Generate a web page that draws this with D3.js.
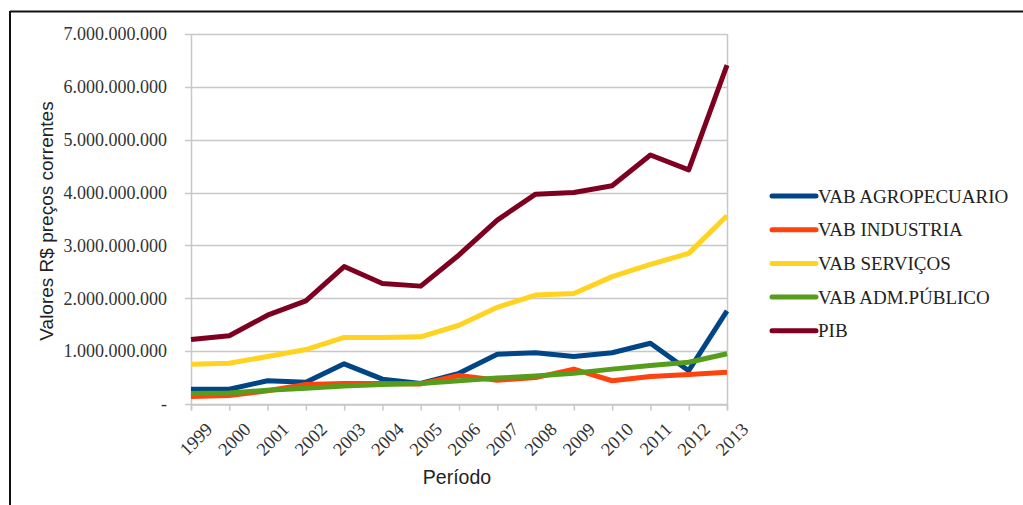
<!DOCTYPE html>
<html>
<head>
<meta charset="utf-8">
<script src="https://cdn.jsdelivr.net/npm/d3@7"></script>
<style>
  body { margin: 0; background: #fff; }
  svg { display: block; }
</style>
</head>
<body>
<div id="chart"></div>
<script>
const years = [1999, 2000, 2001, 2002, 2003, 2004, 2005, 2006, 2007, 2008, 2009, 2010, 2011, 2012, 2013];

// values in billions of R$ (scaled below)
const agropecuario = [0.28, 0.28, 0.44, 0.41, 0.76, 0.47, 0.39, 0.58, 0.94, 0.97, 0.90, 0.97, 1.15, 0.63, 1.76];
const industria = [0.14, 0.16, 0.25, 0.37, 0.39, 0.39, 0.38, 0.54, 0.45, 0.50, 0.66, 0.44, 0.52, 0.56, 0.60];
const servicos = [0.75, 0.77, 0.90, 1.03, 1.26, 1.26, 1.27, 1.49, 1.83, 2.06, 2.09, 2.41, 2.64, 2.85, 3.56];
const admPublico = [0.20, 0.21, 0.26, 0.30, 0.34, 0.37, 0.39, 0.44, 0.49, 0.53, 0.58, 0.66, 0.73, 0.79, 0.95];
const pib = [1.22, 1.29, 1.68, 1.95, 2.60, 2.28, 2.23, 2.82, 3.48, 3.97, 4.00, 4.13, 4.71, 4.43, 6.41];

const seriesNames = ['VAB AGROPECUARIO', 'VAB INDUSTRIA', 'VAB SERVIÇOS', 'VAB ADM.PÚBLICO', 'PIB'];
const seriesColors = ['#004586', '#ff420e', '#ffd320', '#579d1c', '#7e0021'];
const yTicks = [0, 1e9, 2e9, 3e9, 4e9, 5e9, 6e9, 7e9];

const series = [agropecuario, industria, servicos, admPublico, pib].map((vals, i) => ({
  name: seriesNames[i],
  color: seriesColors[i],
  values: vals.map((v, j) => ({ year: years[j], value: v * 1e9 }))
}));

const width = 1023, height = 505;
const margin = { left: 191, right: 296, top: 34, bottom: 100 };
const serif = '"Liberation Serif", "Times New Roman", serif';
const sans = '"Liberation Sans", Arial, sans-serif';

const svg = d3.select('#chart').append('svg')
  .attr('width', width)
  .attr('height', height);

// outer frame (only top and left edges show)
svg.append('line')
  .attr('x1', 10).attr('y1', 11.5).attr('x2', width).attr('y2', 11.5)
  .attr('stroke', '#111').attr('stroke-width', 2);
svg.append('line')
  .attr('x1', 10).attr('y1', 11).attr('x2', 10).attr('y2', height)
  .attr('stroke', '#111').attr('stroke-width', 2);

const x = d3.scalePoint()
  .domain(years)
  .range([margin.left, width - margin.right]);

const y = d3.scaleLinear()
  .domain([0, 7e9])
  .range([height - margin.bottom - 1, margin.top]);

const ptBR = d3.formatLocale({ decimal: ',', thousands: '.', grouping: [3], currency: ['R$', ''] });
const fmt = d => d === 0 ? '-' : ptBR.format(',')(d);

// grid
svg.append('g')
  .selectAll('line')
  .data(yTicks)
  .join('line')
  .attr('x1', margin.left - 6)
  .attr('x2', width - margin.right)
  .attr('y1', d => Math.round(y(d)) + 0.5)
  .attr('y2', d => Math.round(y(d)) + 0.5)
  .attr('stroke', '#c8c8c8')
  .attr('stroke-width', 1.5);

// y axis
const yAxis = svg.append('g')
  .attr('transform', `translate(${margin.left},0)`)
  .call(d3.axisLeft(y).tickValues(yTicks).tickFormat(fmt).tickSize(0).tickPadding(24));
yAxis.select('.domain').attr('stroke', '#c8c8c8').attr('stroke-width', 1.5);
yAxis.selectAll('text')
  .attr('font-family', serif)
  .attr('font-size', 18)
  .attr('fill', '#333');

// right edge of plot
svg.append('line')
  .attr('x1', width - margin.right + 0.5).attr('x2', width - margin.right + 0.5)
  .attr('y1', margin.top).attr('y2', y(0))
  .attr('stroke', '#c8c8c8').attr('stroke-width', 1.5);

// x axis
const xAxis = svg.append('g')
  .attr('transform', `translate(0,${Math.round(y(0)) + 0.5})`)
  .call(d3.axisBottom(x).tickSize(6).tickPadding(4));
xAxis.select('.domain').attr('stroke', '#c8c8c8').attr('stroke-width', 1.5);
xAxis.selectAll('.tick line').attr('stroke', '#c8c8c8').attr('stroke-width', 1.5);
xAxis.selectAll('text')
  .attr('font-family', serif)
  .attr('font-size', 18.5)
  .attr('fill', '#333')
  .attr('text-anchor', 'end')
  .attr('dy', '0.3em')
  .attr('transform', 'translate(11,15) rotate(-45)');

// lines
const line = d3.line()
  .x(d => x(d.year))
  .y(d => y(d.value));

svg.append('g')
  .selectAll('path')
  .data(series)
  .join('path')
  .attr('d', d => line(d.values))
  .attr('fill', 'none')
  .attr('stroke', d => d.color)
  .attr('stroke-width', 5)
  .attr('stroke-linejoin', 'round');

// axis titles
svg.append('text')
  .attr('transform', `translate(53,${(margin.top + y(0)) / 2 + 2}) rotate(-90)`)
  .attr('text-anchor', 'middle')
  .attr('font-family', sans)
  .attr('font-size', 19)
  .attr('fill', '#222')
  .text('Valores R$ preços correntes');

svg.append('text')
  .attr('x', 457)
  .attr('y', 484)
  .attr('text-anchor', 'middle')
  .attr('font-family', sans)
  .attr('font-size', 19.5)
  .attr('fill', '#222')
  .text('Período');

// legend
const legend = svg.append('g')
  .attr('transform', 'translate(772,196)');

const item = legend.selectAll('g')
  .data(series)
  .join('g')
  .attr('transform', (d, i) => `translate(0,${i * 33.7})`);

item.append('line')
  .attr('x1', 0).attr('x2', 44)
  .attr('stroke', d => d.color)
  .attr('stroke-width', 5)
  .attr('stroke-linecap', 'round');

item.append('text')
  .attr('x', 46)
  .attr('dy', '0.35em')
  .attr('font-family', serif)
  .attr('font-size', 19)
  .attr('fill', '#222')
  .text(d => d.name);
</script>
</body>
</html>
